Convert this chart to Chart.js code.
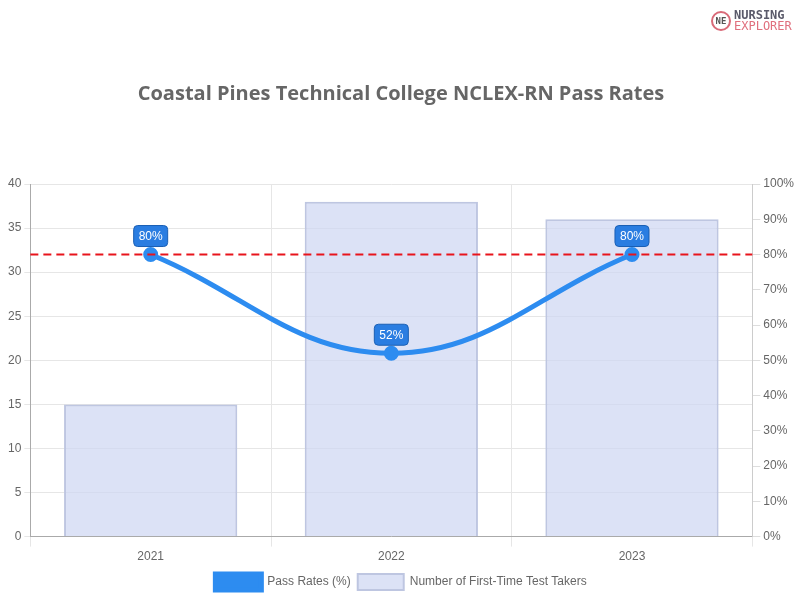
<!DOCTYPE html>
<html>
<head>
<meta charset="utf-8">
<script src="https://cdn.jsdelivr.net/npm/chart.js@4"></script>
<style>
  html, body { margin:0; padding:0; background:#fff; }
  #wrap { position:relative; width:800px; height:600px; }
  #logo { position:absolute; left:711px; top:10px; font-family:"DejaVu Sans Mono", monospace; font-weight:bold; line-height:11px; font-size:12px; }
  #logo .ic { position:absolute; left:0; top:1px; width:20px; height:20px; border:2px solid #d96a78; border-radius:50%; box-sizing:border-box; color:#555; font-size:9px; text-align:center; line-height:16px; }
  #logo .t1 { position:absolute; left:23px; top:0; color:#5a5a6a; }
  #logo .t2 { position:absolute; left:23px; top:11px; color:#e0707e; font-weight:normal; }
</style>
</head>
<body>
<div id="wrap">
  <canvas id="chart" width="800" height="600"></canvas>
  <div id="logo"><span class="ic">NE</span><span class="t1">NURSING</span><span class="t2">EXPLORER</span></div>
</div>
<script>
const years = ['2021', '2022', '2023'];
const passRates = [80, 52, 80];
const testTakers = [15, 38, 36];
const benchmark = 80;

const ctx = document.getElementById('chart').getContext('2d');
Chart.defaults.font.family = "'Liberation Sans', Arial, sans-serif";
Chart.defaults.color = '#666';

// red dashed benchmark line + value labels on the line points
const extras = {
  id: 'extras',
  afterDatasetsDraw(chart) {
    const c = chart.ctx;
    const area = chart.chartArea;
    const y = chart.scales.y1.getPixelForValue(benchmark);
    c.save();
    c.strokeStyle = '#e8141c';
    c.lineWidth = 2;
    c.setLineDash([8, 5]);
    c.beginPath();
    c.moveTo(area.left, y);
    c.lineTo(area.right, y);
    c.stroke();
    c.setLineDash([]);

    const meta = chart.getDatasetMeta(0);
    c.font = "12px 'Liberation Sans', Arial, sans-serif";
    c.textAlign = 'center';
    c.textBaseline = 'middle';
    meta.data.forEach((pt, i) => {
      const txt = passRates[i] + '%';
      const w = c.measureText(txt).width + 10;
      const h = 21;
      const bx = pt.x - w / 2, by = pt.y - 29;
      c.fillStyle = '#2a7de1';
      c.strokeStyle = '#1a5fb4';
      c.lineWidth = 1;
      c.beginPath();
      c.roundRect(bx, by, w, h, 4);
      c.fill();
      c.stroke();
      c.fillStyle = '#fff';
      c.fillText(txt, pt.x, by + h / 2 + 1);
    });
    c.restore();
  }
};

new Chart(ctx, {
  data: {
    labels: years,
    datasets: [
      {
        type: 'line', label: 'Pass Rates (%)', data: passRates, yAxisID: 'y1',
        borderColor: '#2d8cf0', backgroundColor: '#2d8cf0', borderWidth: 5,
        tension: 0.4, pointRadius: 5, pointBackgroundColor: '#2d8cf0', order: 0
      },
      {
        type: 'bar', label: 'Number of First-Time Test Takers', data: testTakers, yAxisID: 'y',
        backgroundColor: 'rgba(205,214,242,0.7)', borderColor: 'rgba(190,198,225,1)', borderWidth: 2, order: 1
      }
    ]
  },
  options: {
    responsive: false,
    animation: false,
    layout: { padding: { top: 64, left: 5, right: 3, bottom: 0 } },
    plugins: {
      title: {
        display: true, text: 'Coastal Pines Technical College NCLEX-RN Pass Rates',
        font: { family: "'Open Sans', sans-serif", size: 20, weight: 'bold' },
        color: '#666', padding: { top: 18, bottom: 78 }
      },
      legend: {
        position: 'bottom',
        labels: { boxWidth: 46, boxHeight: 16, font: { size: 12 }, color: '#666', padding: 7 }
      },
      tooltip: { enabled: false }
    },
    scales: {
      x: {
        grid: { color: '#e6e6e6', offset: true, tickLength: 10 },
        border: { color: '#aaa' },
        ticks: { font: { size: 12 }, color: '#666' }
      },
      y: {
        position: 'left', min: 0, max: 40,
        ticks: { stepSize: 5, font: { size: 12 }, color: '#666' },
        grid: { color: '#e6e6e6', tickLength: 6 },
        border: { color: '#aaa' }
      },
      y1: {
        position: 'right', min: 0, max: 100,
        ticks: { stepSize: 10, callback: v => v + '%', font: { size: 12 }, color: '#666' },
        grid: { drawOnChartArea: false, color: '#ddd', tickLength: 8 },
        border: { color: '#ccc' }
      }
    }
  },
  plugins: [extras]
});
</script>
</body>
</html>
